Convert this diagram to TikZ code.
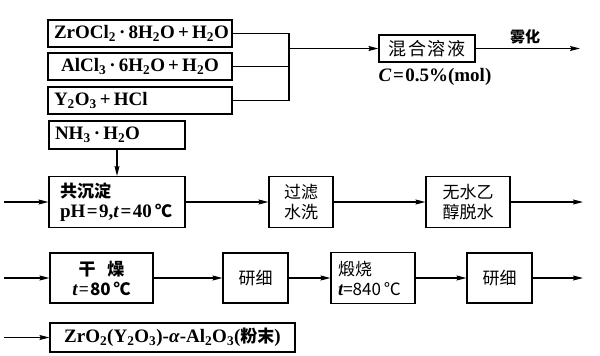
\documentclass[tikz,border=0pt]{standalone}
\usepackage{fontspec}
\setmainfont{Liberation Serif}
\newfontfamily\cjk{Noto Sans CJK SC}
\usetikzlibrary{arrows.meta}
\newcommand{\sbs}[1]{\textsubscript{#1}}
\newcommand{\pls}{\,+\,}
\newcommand{\eqs}{\kern1.5pt=\kern1.5pt}
\newcommand{\cj}[1]{{\cjk\fontsize{17}{20}\selectfont #1}}
\newcommand{\cjb}[1]{{\cjk\bfseries\fontsize{17}{20}\selectfont #1}}
\begin{document}
\begin{tikzpicture}[x=1pt,y=-1pt,
  box/.style={draw, line width=1.1pt, inner sep=0pt, font=\fontsize{19}{20}\selectfont\bfseries},
  cbox/.style={draw, line width=1.1pt, inner sep=0pt, align=center, font=\cjk\fontsize{17}{20}\selectfont},
  lbl/.style={inner sep=0pt, font=\fontsize{19}{20}\selectfont\bfseries},
  arr/.style={line width=1.1pt, -{Stealth[length=10pt,width=5pt,inset=1.5pt]}},
  ln/.style={line width=1.1pt}]
\useasboundingbox (0,0) rectangle (600,356);

% top reagent boxes
\node[box, minimum height=27pt, text width=172pt, inner xsep=6pt, align=left] (zr) at (140,33.5)
  {\mbox{ZrOCl\sbs{2}\,·\,8H\sbs{2}O\pls H\sbs{2}O}};
\node[box, minimum width=184pt, minimum height=27pt] (al) at (140,66.5)
  {AlCl\sbs{3}\,·\,6H\sbs{2}O\pls H\sbs{2}O};
\node[box, minimum height=27pt, text width=172pt, inner xsep=6pt, align=left] (yo) at (140,100.5)
  {\mbox{Y\sbs{2}O\sbs{3}\pls HCl}};

\coordinate (b1) at (289,33.5);
\coordinate (b3) at (289,100.5);
\draw[ln] (zr.east) -- (b1) -- (b3) -- (yo.east);
\draw[ln] (al.east) -- (al.east -| b1);

\node[cbox, minimum width=96pt, minimum height=27pt, font=\cjk\fontsize{18}{20}\selectfont] (mix) at (427,48.5) {混\hspace{2pt}合\hspace{2pt}溶\hspace{2pt}液};
\draw[arr] (mix.west -| b1) -- (mix.west);
\coordinate (o1) at (580,48.5);
\draw[arr] (mix.east) -- (o1);
\node[inner sep=0pt, font=\cjk\bfseries\fontsize{15}{16}\selectfont] (wh) at (525,37) {雾化};
\node[lbl] (conc) at (435,77) {\textit{C}\eqs 0.5\%(mol)};

% NH3 box
\node[box, minimum height=28pt, text width=124pt, inner xsep=6pt, align=left] (nh) at (117,135)
  {\mbox{NH\sbs{3}\,·\,H\sbs{2}O}};

% row 2
\node[box, minimum height=51pt, text width=114pt, inner xsep=11pt, align=left] (cp) at (117,202)
  {\cjb{共沉淀}\\\mbox{pH\eqs 9,\textit{t}\eqs 40\,\cj{℃}}};
\draw[arr] (nh.south) -- (cp.north);
\coordinate (i2) at (4,202);
\draw[arr] (i2) -- (cp.west);
\node[cbox, minimum width=64pt, minimum height=51pt] (gl) at (301,202) {过滤\\水洗};
\draw[arr] (cp.east) -- (gl.west);
\node[cbox, minimum width=84pt, minimum height=51pt] (ws) at (468,202) {无水乙\\醇脱水};
\draw[arr] (gl.east) -- (ws.west);
\coordinate (o2) at (583,202);
\draw[arr] (ws.east) -- (o2);

% row 3
\node[cbox, minimum width=103pt, minimum height=50pt] (gz) at (101.5,278)
  {\textbf{干\hspace{0.7em}燥}\\{\fontsize{19}{20}\selectfont\rmfamily\bfseries\itshape t}\kern1.5pt=\kern1.5pt\textbf{80\,℃}};
\coordinate (i3) at (4,278);
\draw[arr] (i3) -- (gz.west);
\node[cbox, minimum width=65pt, minimum height=50pt] (yx1) at (255.5,278) {研细};
\draw[arr] (gz.east) -- (yx1.west);
\node[cbox, minimum height=51pt, text width=70pt, inner xsep=7pt, align=left] (ds) at (373,278)
  {煅烧\\\mbox{{\fontsize{19}{20}\selectfont\rmfamily\bfseries\itshape t}=840\,℃}};
\draw[arr] (yx1.east) -- (ds.west);
\node[cbox, minimum width=65pt, minimum height=50pt] (yx2) at (499.5,278) {研细};
\draw[arr] (ds.east) -- (yx2.west);
\coordinate (o3) at (583,278);
\draw[arr] (yx2.east) -- (o3);

% row 4
\node[box, minimum width=245pt, minimum height=29pt] (fin) at (172.5,337.5)
  {ZrO\sbs{2}(Y\sbs{2}O\sbs{3})-\textit{α}-Al\sbs{2}O\sbs{3}(\cj{\bfseries 粉末})};
\coordinate (i4) at (4,337.5);
\draw[arr] (i4) -- (fin.west);
\end{tikzpicture}
\end{document}
